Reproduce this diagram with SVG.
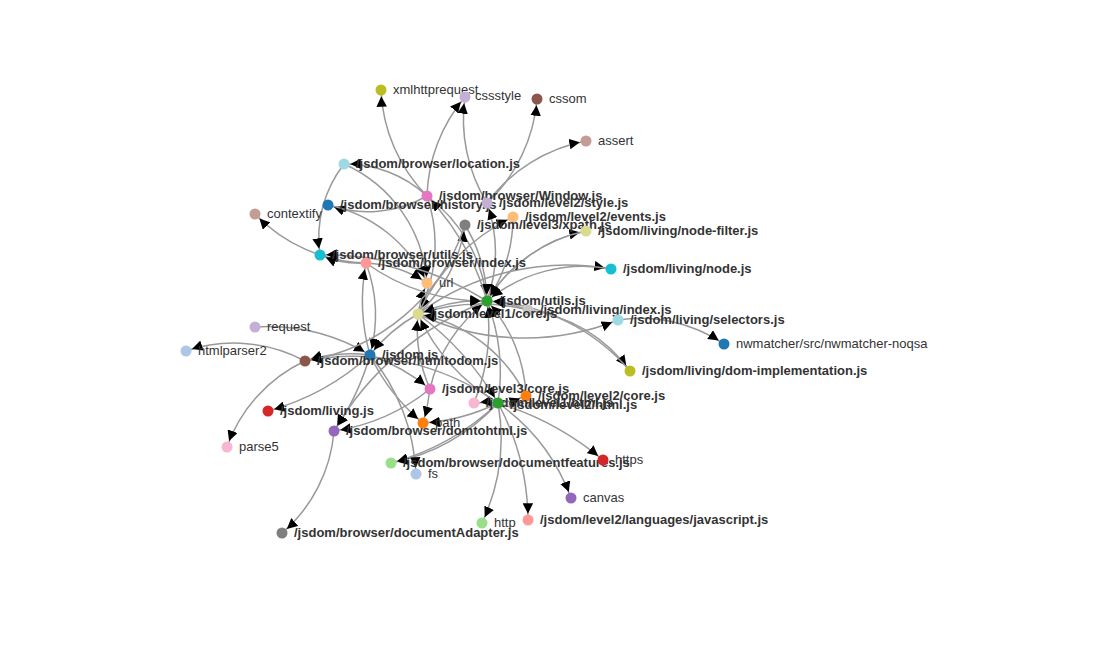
<svg xmlns="http://www.w3.org/2000/svg" width="1093" height="656" viewBox="0 0 1093 656">
<style>
.l{fill:none;stroke:#999;stroke-width:1.5;marker-end:url(#a)}
text{font-family:"Liberation Sans",Arial,sans-serif;font-size:13px;fill:#333}
.b{font-weight:bold}
</style>
<defs><marker id="a" viewBox="0 -5 10 10" refX="16" refY="0" markerWidth="7" markerHeight="7" orient="auto"><path d="M0,-5L10,0L0,5Z" fill="#000"/></marker></defs>
<rect width="1093" height="656" fill="#fff"/>
<g id="connectors">
<path class="l" d="M427,196A160,160 0 0,1 381,90"/>
<path class="l" d="M487,203A160,160 0 0,1 465,97"/>
<path class="l" d="M487,203A160,160 0 0,0 537,99"/>
<path class="l" d="M487,203A160,160 0 0,1 586,141"/>
<path class="l" d="M427,196A160,160 0 0,1 465,97"/>
<path class="l" d="M427,196A120,120 0 0,0 344,164"/>
<path class="l" d="M427,196A120,120 0 0,1 328,205"/>
<path class="l" d="M344,164A120,120 0 0,0 320,255"/>
<path class="l" d="M344,164A140,140 0 0,1 427,283"/>
<path class="l" d="M328,205A140,140 0 0,1 427,283"/>
<path class="l" d="M366,263A160,160 0 0,1 255,214"/>
<path class="l" d="M366,263A100,100 0 0,1 320,255"/>
<path class="l" d="M366,263A120,120 0 0,1 427,283"/>
<path class="l" d="M366,263A150,150 0 0,1 370,355"/>
<path class="l" d="M427,196A150,150 0 0,1 418,314"/>
<path class="l" d="M427,196A150,150 0 0,1 487,301"/>
<path class="l" d="M418,314A150,150 0 0,1 427,283"/>
<path class="l" d="M418,314A150,150 0 0,0 465,225"/>
<path class="l" d="M418,314A200,200 0 0,1 513,217"/>
<path class="l" d="M418,314A250,250 0 0,1 611,269"/>
<path class="l" d="M418,314A250,250 0 0,0 618,320"/>
<path class="l" d="M418,314A150,150 0 0,1 487,301"/>
<path class="l" d="M418,314A160,160 0 0,0 370,355"/>
<path class="l" d="M487,301A150,150 0 0,1 586,231"/>
<path class="l" d="M487,301A150,150 0 0,0 487,203"/>
<path class="l" d="M528,310A150,150 0 0,1 630,371"/>
<path class="l" d="M618,320A150,150 0 0,1 724,344"/>
<path class="l" d="M528,310A200,200 0 0,0 418,314"/>
<path class="l" d="M528,310A150,150 0 0,0 487,301"/>
<path class="l" d="M513,217A150,150 0 0,1 487,301"/>
<path class="l" d="M465,225A150,150 0 0,1 487,301"/>
<path class="l" d="M586,231A150,150 0 0,0 487,301"/>
<path class="l" d="M611,269A150,150 0 0,0 487,301"/>
<path class="l" d="M630,371A200,200 0 0,0 487,301"/>
<path class="l" d="M430,389A150,150 0 0,1 487,301"/>
<path class="l" d="M430,389A150,150 0 0,1 418,314"/>
<path class="l" d="M526,396A150,150 0 0,0 487,301"/>
<path class="l" d="M526,396A150,150 0 0,0 418,314"/>
<path class="l" d="M498,403A200,200 0 0,0 487,301"/>
<path class="l" d="M498,403A200,200 0 0,1 418,314"/>
<path class="l" d="M498,403A100,100 0 0,0 526,396"/>
<path class="l" d="M498,403A120,120 0 0,0 474,403"/>
<path class="l" d="M474,403A200,200 0 0,0 487,301"/>
<path class="l" d="M498,403A300,300 0 0,1 603,460"/>
<path class="l" d="M498,403A200,200 0 0,1 571,498"/>
<path class="l" d="M498,403A200,200 0 0,1 482,523"/>
<path class="l" d="M498,403A250,250 0 0,1 528,520"/>
<path class="l" d="M498,403A200,200 0 0,1 391,463"/>
<path class="l" d="M498,403A200,200 0 0,1 423,423"/>
<path class="l" d="M370,355A150,150 0 0,0 305,361"/>
<path class="l" d="M370,355A200,200 0 0,1 430,389"/>
<path class="l" d="M370,355A200,200 0 0,0 423,423"/>
<path class="l" d="M370,355A200,200 0 0,1 416,474"/>
<path class="l" d="M370,355A250,250 0 0,1 268,411"/>
<path class="l" d="M370,355A250,250 0 0,1 334,431"/>
<path class="l" d="M370,355A200,200 0 0,1 366,263"/>
<path class="l" d="M305,361A150,150 0 0,0 186,351"/>
<path class="l" d="M305,361A150,150 0 0,0 227,447"/>
<path class="l" d="M255,327A200,200 0 0,1 370,355"/>
<path class="l" d="M498,403A250,250 0 0,0 305,361"/>
<path class="l" d="M334,431A150,150 0 0,1 282,533"/>
<path class="l" d="M487,301A300,300 0 0,0 334,431"/>
<path class="l" d="M430,389A200,200 0 0,1 334,431"/>
<path class="l" d="M430,389A200,200 0 0,1 423,423"/>
<path class="l" d="M498,403A250,250 0 0,1 391,463"/>
<path class="l" d="M487,301A300,300 0 0,0 320,255"/>
<path class="l" d="M366,263A200,200 0 0,0 487,301"/>
<path class="l" d="M487,301A250,250 0 0,0 427,196"/>
<path class="l" d="M465,225A200,200 0 0,1 305,361"/>
<path class="l" d="M418,314A300,300 0 0,1 498,403"/>
</g>
<g id="nodes">
<g id="n1"><circle cx="381" cy="90" r="5.5" fill="#bcbd22"/><text x="393" y="94">xmlhttprequest</text></g>
<g id="n2"><circle cx="465" cy="97" r="5.5" fill="#c5b0d5"/><text x="475" y="100">cssstyle</text></g>
<g id="n3"><circle cx="537" cy="99" r="5.5" fill="#8c564b"/><text x="549" y="103">cssom</text></g>
<g id="n4"><circle cx="586" cy="141" r="5.5" fill="#c49c94"/><text x="598" y="145">assert</text></g>
<g id="n5"><circle cx="344" cy="164" r="5.5" fill="#9edae5"/><text class="b" x="356" y="168">/jsdom/browser/location.js</text></g>
<g id="n6"><circle cx="427" cy="196" r="5.5" fill="#e377c2"/><text class="b" x="439" y="200">/jsdom/browser/Window.js</text></g>
<g id="n7"><circle cx="328" cy="205" r="5.5" fill="#1f77b4"/><text class="b" x="340" y="209">/jsdom/browser/history.js</text></g>
<g id="n8"><circle cx="487" cy="203" r="5.5" fill="#c5b0d5"/><text class="b" x="499" y="207">/jsdom/level2/style.js</text></g>
<g id="n9"><circle cx="255" cy="214" r="5.5" fill="#c49c94"/><text x="267" y="218">contextify</text></g>
<g id="n10"><circle cx="513" cy="217" r="5.5" fill="#ffbb78"/><text class="b" x="525" y="221">/jsdom/level2/events.js</text></g>
<g id="n11"><circle cx="465" cy="225" r="5.5" fill="#7f7f7f"/><text class="b" x="477" y="229">/jsdom/level3/xpath.js</text></g>
<g id="n12"><circle cx="586" cy="231" r="5.5" fill="#dbdb8d"/><text class="b" x="598" y="235">/jsdom/living/node-filter.js</text></g>
<g id="n13"><circle cx="320" cy="255" r="5.5" fill="#17becf"/><text class="b" x="332" y="259">/jsdom/browser/utils.js</text></g>
<g id="n14"><circle cx="366" cy="263" r="5.5" fill="#ff9896"/><text class="b" x="378" y="267">/jsdom/browser/index.js</text></g>
<g id="n15"><circle cx="611" cy="269" r="5.5" fill="#17becf"/><text class="b" x="623" y="273">/jsdom/living/node.js</text></g>
<g id="n16"><circle cx="427" cy="283" r="5.5" fill="#ffbb78"/><text x="439" y="287">url</text></g>
<g id="n17"><circle cx="487" cy="301" r="5.5" fill="#2ca02c"/><text class="b" x="499" y="305">/jsdom/utils.js</text></g>
<g id="n18"><circle cx="528" cy="310" r="5.5" fill="#c7c7c7"/><text class="b" x="540" y="314">/jsdom/living/index.js</text></g>
<g id="n19"><circle cx="418" cy="314" r="5.5" fill="#dbdb8d"/><text class="b" x="430" y="318">/jsdom/level1/core.js</text></g>
<g id="n20"><circle cx="618" cy="320" r="5.5" fill="#9edae5"/><text class="b" x="630" y="324">/jsdom/living/selectors.js</text></g>
<g id="n21"><circle cx="255" cy="327" r="5.5" fill="#c5b0d5"/><text x="267" y="331">request</text></g>
<g id="n22"><circle cx="724" cy="344" r="5.5" fill="#1f77b4"/><text x="736" y="348">nwmatcher/src/nwmatcher-noqsa</text></g>
<g id="n23"><circle cx="186" cy="351" r="5.5" fill="#aec7e8"/><text x="198" y="355">htmlparser2</text></g>
<g id="n24"><circle cx="370" cy="355" r="5.5" fill="#1f77b4"/><text class="b" x="382" y="359">/jsdom.js</text></g>
<g id="n25"><circle cx="305" cy="361" r="5.5" fill="#8c564b"/><text class="b" x="317" y="365">/jsdom/browser/htmltodom.js</text></g>
<g id="n26"><circle cx="630" cy="371" r="5.5" fill="#bcbd22"/><text class="b" x="642" y="375">/jsdom/living/dom-implementation.js</text></g>
<g id="n27"><circle cx="430" cy="389" r="5.5" fill="#e377c2"/><text class="b" x="442" y="393">/jsdom/level3/core.js</text></g>
<g id="n28"><circle cx="526" cy="396" r="5.5" fill="#ff7f0e"/><text class="b" x="538" y="400">/jsdom/level2/core.js</text></g>
<g id="n29"><circle cx="474" cy="403" r="5.5" fill="#f7b6d2"/><text class="b" x="486" y="407">/jsdom/level1/html.js</text></g>
<g id="n30"><circle cx="498" cy="403" r="5.5" fill="#2ca02c"/><text class="b" x="510" y="409">/jsdom/level2/html.js</text></g>
<g id="n31"><circle cx="268" cy="411" r="5.5" fill="#d62728"/><text class="b" x="280" y="415">/jsdom/living.js</text></g>
<g id="n32"><circle cx="423" cy="423" r="5.5" fill="#ff7f0e"/><text x="435" y="427">path</text></g>
<g id="n33"><circle cx="334" cy="431" r="5.5" fill="#9467bd"/><text class="b" x="346" y="435">/jsdom/browser/domtohtml.js</text></g>
<g id="n34"><circle cx="227" cy="447" r="5.5" fill="#f7b6d2"/><text x="239" y="451">parse5</text></g>
<g id="n35"><circle cx="391" cy="463" r="5.5" fill="#98df8a"/><text class="b" x="403" y="467">/jsdom/browser/documentfeatures.js</text></g>
<g id="n36"><circle cx="416" cy="474" r="5.5" fill="#aec7e8"/><text x="428" y="478">fs</text></g>
<g id="n37"><circle cx="603" cy="460" r="5.5" fill="#d62728"/><text x="615" y="464">https</text></g>
<g id="n38"><circle cx="571" cy="498" r="5.5" fill="#9467bd"/><text x="583" y="502">canvas</text></g>
<g id="n39"><circle cx="482" cy="523" r="5.5" fill="#98df8a"/><text x="494" y="527">http</text></g>
<g id="n40"><circle cx="528" cy="520" r="5.5" fill="#ff9896"/><text class="b" x="540" y="524">/jsdom/level2/languages/javascript.js</text></g>
<g id="n41"><circle cx="282" cy="533" r="5.5" fill="#7f7f7f"/><text class="b" x="294" y="537">/jsdom/browser/documentAdapter.js</text></g>
</g>
</svg>
